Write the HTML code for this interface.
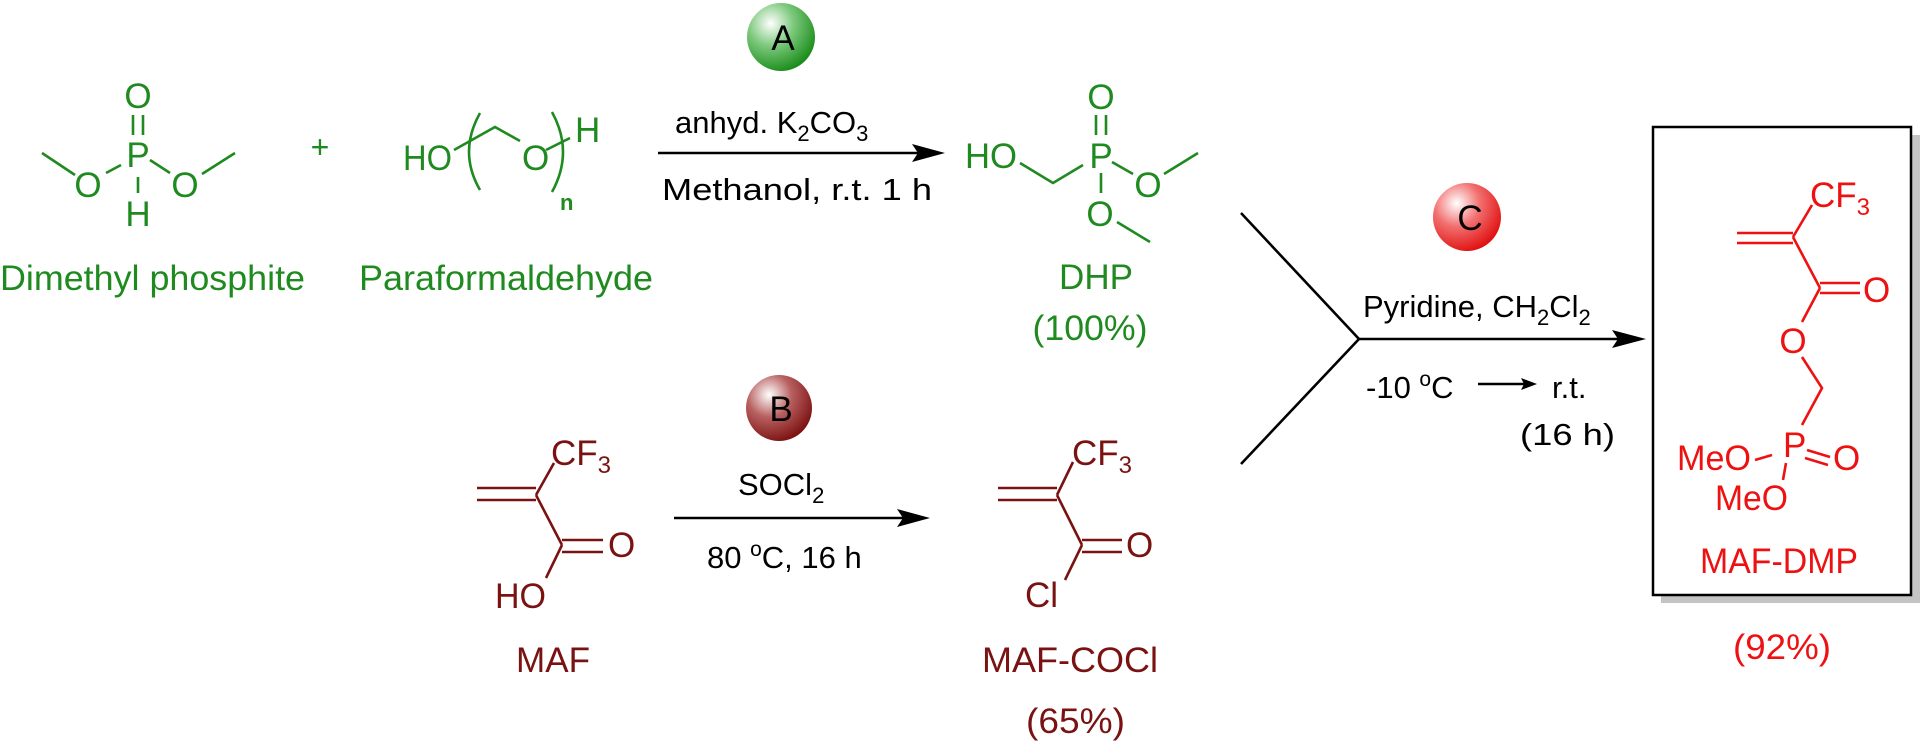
<!DOCTYPE html>
<html><head><meta charset="utf-8"><style>
html,body{margin:0;padding:0;background:#fff;width:1920px;height:742px;overflow:hidden}
svg{display:block}
text{font-family:"Liberation Sans",Arial,sans-serif}
.g{fill:#1f8a1f}.gs{stroke:#1f8a1f}
.d{fill:#7a1212}.ds{stroke:#7a1212}
.r{fill:#ee1111}.rs{stroke:#ee1111}
.k{fill:#000}.ks{stroke:#000}
line,polyline,path{stroke-width:2.6;fill:none}
</style></head><body>
<svg width="1920" height="742" viewBox="0 0 1920 742" xmlns="http://www.w3.org/2000/svg">
<defs>
<radialGradient id="ga" cx="0.35" cy="0.3" r="0.75"><stop offset="0" stop-color="#fff"/><stop offset="0.45" stop-color="#7cc87c"/><stop offset="1" stop-color="#168a16"/></radialGradient>
<radialGradient id="gb" cx="0.35" cy="0.3" r="0.75"><stop offset="0" stop-color="#fff"/><stop offset="0.45" stop-color="#b86060"/><stop offset="1" stop-color="#7a0f0f"/></radialGradient>
<radialGradient id="gc" cx="0.35" cy="0.3" r="0.75"><stop offset="0" stop-color="#fff"/><stop offset="0.45" stop-color="#f27070"/><stop offset="1" stop-color="#e00d0d"/></radialGradient>
</defs>

<!-- Dimethyl phosphite -->
<g class="gs">
<line x1="42" y1="153" x2="75" y2="175"/>
<line x1="106" y1="173" x2="121" y2="165"/>
<line x1="150" y1="160" x2="170" y2="173"/>
<line x1="202" y1="174" x2="235" y2="153"/>
<line x1="133" y1="115" x2="133" y2="135"/>
<line x1="143" y1="115" x2="143" y2="135"/>
<line x1="138" y1="177" x2="138" y2="193"/>
</g>
<g class="g" font-size="35" text-anchor="middle">
<text x="138" y="108">O</text>
<text x="138" y="167">P</text>
<text x="88" y="197">O</text>
<text x="185" y="197">O</text>
<text x="138" y="226">H</text>
</g>
<text class="g" x="0" y="290" font-size="35" textLength="305" lengthAdjust="spacingAndGlyphs">Dimethyl phosphite</text>
<text class="g" x="320" y="158" font-size="32" text-anchor="middle">+</text>

<!-- Paraformaldehyde -->
<g class="gs">
<path d="M480 113 Q458 152 480 190"/>
<path d="M552 112 Q574 152 552 192"/>
<polyline points="454,150 495,127 520,141"/>
<line x1="546" y1="150" x2="570" y2="138"/>
</g>
<g class="g" font-size="35">
<text x="403" y="170" textLength="49" lengthAdjust="spacingAndGlyphs">HO</text>
<text x="522" y="170">O</text>
<text x="575" y="142">H</text>
<text x="560" y="210" font-size="22" font-weight="bold">n</text>
</g>
<text class="g" x="359" y="290" font-size="35" textLength="294" lengthAdjust="spacingAndGlyphs">Paraformaldehyde</text>

<!-- Arrow A -->
<circle cx="781" cy="37" r="34" fill="url(#ga)"/>
<text x="783" y="50" font-size="35" text-anchor="middle" class="k">A</text>
<line class="ks" x1="658" y1="153" x2="918" y2="153"/>
<polygon points="945,153 912,144 918,153 912,162" class="k"/>
<text class="k" x="675" y="133" font-size="31">anhyd. K<tspan font-size="22" dy="8">2</tspan><tspan dy="-8">CO</tspan><tspan font-size="22" dy="8">3</tspan></text>
<text class="k" x="662" y="200" font-size="31" textLength="270" lengthAdjust="spacingAndGlyphs">Methanol, r.t. 1 h</text>

<!-- DHP -->
<g class="gs">
<line x1="1096" y1="115" x2="1096" y2="135"/>
<line x1="1106" y1="115" x2="1106" y2="135"/>
<polyline points="1020,163 1053,183 1083,165"/>
<line x1="1112" y1="162" x2="1133" y2="174"/>
<line x1="1164" y1="174" x2="1198" y2="153"/>
<line x1="1101" y1="173" x2="1101" y2="193"/>
<line x1="1117" y1="222" x2="1150" y2="242"/>
</g>
<g class="g" font-size="35" text-anchor="middle">
<text x="1101" y="109">O</text>
<text x="1101" y="168">P</text>
<text x="1148" y="197">O</text>
<text x="1100" y="226">O</text>
</g>
<text class="g" x="965" y="168" font-size="35" textLength="52" lengthAdjust="spacingAndGlyphs">HO</text>
<text class="g" x="1096" y="289" font-size="35" text-anchor="middle">DHP</text>
<text class="g" x="1090" y="340" font-size="35" text-anchor="middle" textLength="115" lengthAdjust="spacingAndGlyphs">(100%)</text>

<!-- Fork and arrow C -->
<polyline class="ks" points="1241,213 1359,339 1241,464"/>
<line class="ks" x1="1359" y1="339" x2="1618" y2="339"/>
<polygon class="k" points="1646,339 1612,330 1618,339 1612,348"/>
<circle cx="1467" cy="217" r="34" fill="url(#gc)"/>
<text class="k" x="1470" y="230" font-size="35" text-anchor="middle">C</text>
<text class="k" x="1363" y="317" font-size="31">Pyridine, CH<tspan font-size="22" dy="8">2</tspan><tspan dy="-8">Cl</tspan><tspan font-size="22" dy="8">2</tspan></text>
<text class="k" x="1366" y="398" font-size="31">-10 <tspan font-size="21" dy="-12">o</tspan><tspan dy="12">C</tspan></text>
<line class="ks" x1="1478" y1="384" x2="1525" y2="384" stroke-width="2"/>
<polygon class="k" points="1537,384 1521,378 1524,384 1521,390"/>
<text class="k" x="1552" y="398" font-size="31">r.t.</text>
<text class="k" x="1520" y="445" font-size="31" textLength="95" lengthAdjust="spacingAndGlyphs">(16 h)</text>

<!-- Product box -->
<rect x="1661" y="135" width="259" height="468" fill="#c4c4c4"/>
<rect x="1653" y="127" width="258" height="468" fill="#fff" stroke="#000" stroke-width="2.5"/>
<g class="rs">
<line x1="1812" y1="205" x2="1793" y2="237"/>
<line x1="1737" y1="233" x2="1793" y2="233"/>
<line x1="1737" y1="243" x2="1793" y2="243"/>
<line x1="1793" y1="237" x2="1820" y2="288"/>
<line x1="1820" y1="283" x2="1860" y2="283"/>
<line x1="1820" y1="293" x2="1860" y2="293"/>
<line x1="1820" y1="288" x2="1802" y2="322"/>
<polyline points="1802,357 1822,388 1802,425"/>
<line x1="1755" y1="460" x2="1772" y2="455"/>
<line x1="1807" y1="450" x2="1830" y2="457"/>
<line x1="1805" y1="458" x2="1828" y2="465"/>
<line x1="1786" y1="463" x2="1783" y2="480"/>
</g>
<g class="r" font-size="35">
<text x="1810" y="207">CF<tspan font-size="24" dy="8">3</tspan></text>
<text x="1863" y="302">O</text>
<text x="1793" y="353" text-anchor="middle">O</text>
<text x="1783" y="457">P</text>
<text x="1833" y="470">O</text>
<text x="1677" y="470" textLength="74" lengthAdjust="spacingAndGlyphs">MeO</text>
<text x="1715" y="510" textLength="73" lengthAdjust="spacingAndGlyphs">MeO</text>
</g>
<text class="r" x="1700" y="573" font-size="35" textLength="158" lengthAdjust="spacingAndGlyphs">MAF-DMP</text>
<text class="r" x="1733" y="659" font-size="35" textLength="98" lengthAdjust="spacingAndGlyphs">(92%)</text>

<!-- MAF -->
<g class="ds">
<line x1="477" y1="488" x2="536" y2="488"/>
<line x1="477" y1="500" x2="536" y2="500"/>
<line x1="536" y1="495" x2="554" y2="463"/>
<line x1="536" y1="495" x2="562" y2="545"/>
<line x1="562" y1="540" x2="603" y2="540"/>
<line x1="562" y1="552" x2="603" y2="552"/>
<line x1="562" y1="545" x2="546" y2="578"/>
</g>
<g class="d" font-size="35">
<text x="551" y="465">CF<tspan font-size="24" dy="8">3</tspan></text>
<text x="608" y="557">O</text>
<text x="495" y="608" textLength="51" lengthAdjust="spacingAndGlyphs">HO</text>
</g>
<text class="d" x="516" y="672" font-size="35" textLength="74" lengthAdjust="spacingAndGlyphs">MAF</text>

<!-- Arrow B -->
<circle cx="779" cy="408" r="33" fill="url(#gb)"/>
<text class="k" x="781" y="421" font-size="35" text-anchor="middle">B</text>
<line class="ks" x1="674" y1="518" x2="903" y2="518"/>
<polygon class="k" points="930,518 897,509 903,518 897,527"/>
<text class="k" x="738" y="495" font-size="31">SOCl<tspan font-size="22" dy="8">2</tspan></text>
<text class="k" x="707" y="568" font-size="31">80 <tspan font-size="21" dy="-12">o</tspan><tspan dy="12">C, 16 h</tspan></text>

<!-- MAF-COCl -->
<g class="ds">
<line x1="998" y1="488" x2="1057" y2="488"/>
<line x1="998" y1="500" x2="1057" y2="500"/>
<line x1="1057" y1="495" x2="1073" y2="462"/>
<line x1="1057" y1="495" x2="1082" y2="545"/>
<line x1="1082" y1="540" x2="1122" y2="540"/>
<line x1="1082" y1="552" x2="1122" y2="552"/>
<line x1="1082" y1="545" x2="1065" y2="580"/>
</g>
<g class="d" font-size="35">
<text x="1072" y="465">CF<tspan font-size="24" dy="8">3</tspan></text>
<text x="1126" y="557">O</text>
<text x="1025" y="607">Cl</text>
</g>
<text class="d" x="982" y="672" font-size="35" textLength="176" lengthAdjust="spacingAndGlyphs">MAF-COCl</text>
<text class="d" x="1026" y="733" font-size="35" textLength="99" lengthAdjust="spacingAndGlyphs">(65%)</text>
</svg>
</body></html>
